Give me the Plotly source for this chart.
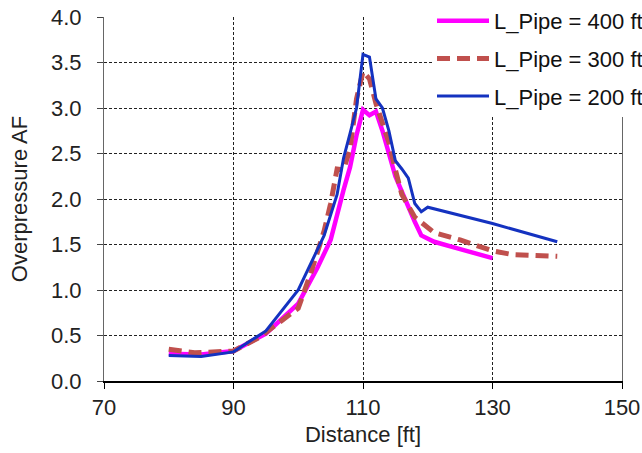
import plotly.graph_objects as go

# Data
x_400 = [80, 85, 90, 95, 100, 103, 105, 106, 107, 108, 109, 110, 111, 112, 113, 114, 115, 116, 117, 118, 119, 121, 125, 130]
y_400 = [0.30, 0.29, 0.33, 0.52, 0.85, 1.25, 1.55, 1.85, 2.10, 2.35, 2.70, 2.98, 2.92, 2.96, 2.75, 2.50, 2.25, 2.08, 1.90, 1.75, 1.60, 1.53, 1.45, 1.35]

x_300 = [80, 84, 90, 94, 100, 102, 104, 105, 106, 107, 108, 109, 110, 111, 112, 113, 114, 115, 116, 118, 121, 125, 130, 133, 140]
y_300 = [0.35, 0.31, 0.33, 0.48, 0.80, 1.20, 1.65, 1.95, 2.33, 2.32, 2.55, 3.10, 3.40, 3.32, 3.05, 2.85, 2.62, 2.32, 2.05, 1.80, 1.63, 1.55, 1.43, 1.39, 1.37]

x_200 = [80, 85, 90, 95, 100, 104, 106, 107, 108, 109, 110, 111, 112, 113, 114, 115, 116, 117, 118, 119, 120, 130, 140]
y_200 = [0.28, 0.27, 0.32, 0.55, 1.00, 1.60, 2.05, 2.45, 2.72, 3.00, 3.59, 3.56, 3.10, 3.00, 2.75, 2.42, 2.33, 2.23, 1.95, 1.86, 1.91, 1.73, 1.53]

names = ["L_Pipe = 400 ft", "L_Pipe = 300 ft", "L_Pipe = 200 ft"]
x_ticks = [70, 90, 110, 130, 150]
y_ticks = [0.0, 0.5, 1.0, 1.5, 2.0, 2.5, 3.0, 3.5, 4.0]

FONT = "Liberation Sans, Arial, sans-serif"

fig = go.Figure()
fig.add_trace(go.Scatter(x=x_400, y=y_400, mode="lines", name=names[0], legendgroup="a",
                         line=dict(color="#FF00FF", width=4.5)))
fig.add_trace(go.Scatter(x=x_300, y=y_300, mode="lines", name=names[1], legendgroup="b",
                         line=dict(color="#C0504D", width=5, dash="13px,7px")))
fig.add_trace(go.Scatter(x=x_200, y=y_200, mode="lines", name=names[2], legendgroup="c",
                         line=dict(color="#1432C0", width=3)))

fig.update_layout(
    width=642, height=453,
    margin=dict(l=104, r=20, t=17, b=72, autoexpand=False),
    paper_bgcolor="white", plot_bgcolor="white",
    font=dict(family=FONT, size=22, color="#222"),
    legend=dict(x=(432 - 104) / 518, y=1 + 17 / 364, xanchor="left", yanchor="top",
                bgcolor="white", font=dict(size=22, color="#111"),
                itemwidth=52, tracegroupgap=6),
    showlegend=True,
)
fig.update_xaxes(
    range=[70, 150], tickvals=x_ticks, ticktext=[str(v) for v in x_ticks],
    showgrid=True, gridcolor="#222", gridwidth=1, griddash="3px,2px",
    showline=True, linecolor="black", linewidth=1.5,
    ticks="outside", ticklen=6, tickcolor="black",
    zeroline=False, tickfont=dict(size=22, color="#222"),
    title=dict(text="Distance [ft]", font=dict(size=22, color="#222"), standoff=7),
)
fig.update_yaxes(
    range=[0, 4], tickvals=y_ticks, ticktext=[f"{v:.1f}" for v in y_ticks],
    showgrid=True, gridcolor="#222", gridwidth=1, griddash="3px,2px",
    showline=True, linecolor="#666", linewidth=1.2, mirror=True,
    ticks="outside", ticklen=6, tickcolor="#444", ticklabelstandoff=11,
    zeroline=False, tickfont=dict(size=22, color="#222"),
    title=dict(text="Overpressure AF", font=dict(size=22, color="#222"), standoff=17),
)

fig.write_html("out.html")
